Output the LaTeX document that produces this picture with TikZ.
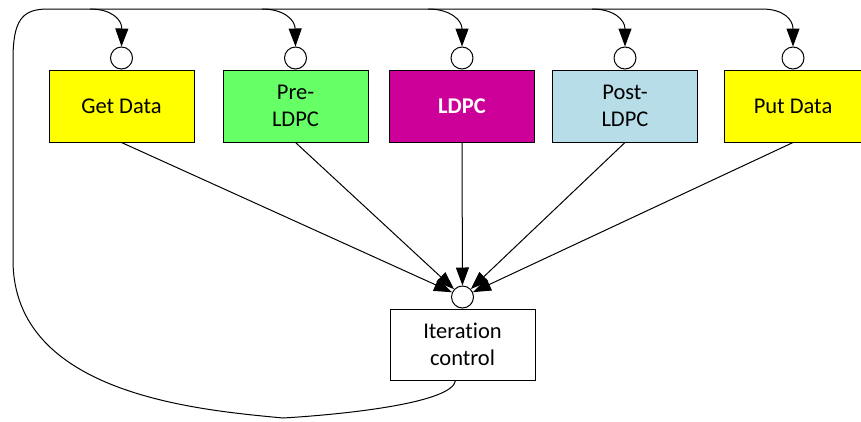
\documentclass[tikz,border=0pt]{standalone}
\usepackage{fontspec}
\setmainfont{Carlito}[Ligatures={NoCommon}]
\usetikzlibrary{arrows.meta,positioning}

\definecolor{gdyellow}{RGB}{255,255,0}
\definecolor{pregreen}{RGB}{102,255,102}
\definecolor{ldpcmag}{RGB}{204,0,153}
\definecolor{postblue}{RGB}{183,221,232}

\tikzset{
  block/.style={draw=black, line width=1pt, minimum width=145pt, minimum height=72pt,
    inner sep=2pt, align=center, font=\fontsize{22.5}{27}\selectfont},
  port/.style={draw=black, fill=white, circle, line width=1pt, inner sep=0pt, minimum size=22pt},
  wire/.style={draw=black, line width=1pt},
  flow/.style={wire, -{Triangle[length=18pt,width=13pt]}}
}

\begin{document}
\begin{tikzpicture}[x=1pt,y=-1pt]
  \useasboundingbox (0,0) rectangle (861,421);

  % processing stages
  \node[block, fill=gdyellow] (gd) at (121.5,106) {Get Data};
  \node[block, fill=pregreen] (pre) at (295.5,106) {Pre-\\LDPC};
  \node[block, fill=ldpcmag, text=white, font=\fontsize{22.5}{27}\selectfont\bfseries] (ldpc) at (462,106) {LDPC};
  \node[block, fill=postblue] (post) at (625,106) {Post-\\LDPC};
  \node[block, fill=gdyellow, minimum width=138pt] (pd) at (793,106) {Put Data};
  \node[block, fill=white, minimum height=71pt] (ic) at (462.5,344.5) {Iteration\\control};

  % trigger ports
  \node[port, above=0pt of gd] (gdp) {};
  \node[port, above=0pt of pre] (prep) {};
  \node[port, above=0pt of ldpc] (ldpcp) {};
  \node[port, above=0pt of post] (postp) {};
  \node[port, above=0pt of pd] (pdp) {};
  \node[port, above=0pt of ic] (icp) {};

  % branch points on the top bus
  \coordinate (b1) at (90,9);
  \coordinate (b2) at (262,9);
  \coordinate (b3) at (428,9);
  \coordinate (b4) at (592,9);

  % feedback loop from iteration control to all stages
  \draw[flow] ([xshift=-7pt]ic.south) .. controls +(-3,22) and (350,414) .. (283,418)
    .. controls (200,410) and (13,395) .. (13,260) -- (13,60)
    .. controls (13,20) and (22,9) .. (48,9) -- (762,9)
    .. controls (784,9) and (793,20) .. (pdp.north);

  \draw[flow] (b1) .. controls (112,9) and (122,20) .. (gdp.north);
  \draw[flow] (b2) .. controls (284,9) and (295,20) .. (prep.north);
  \draw[flow] (b3) .. controls (450,9) and (462,20) .. (ldpcp.north);
  \draw[flow] (b4) .. controls (614,9) and (625,20) .. (postp.north);

  % stages report to iteration control
  \draw[flow] (gd.south) -- (icp);
  \draw[flow] (pre.south) -- (icp);
  \draw[flow] (ldpc.south) -- (icp);
  \draw[flow] (post.south) -- (icp);
  \draw[flow] (pd.south) -- (icp);
\end{tikzpicture}
\end{document}
